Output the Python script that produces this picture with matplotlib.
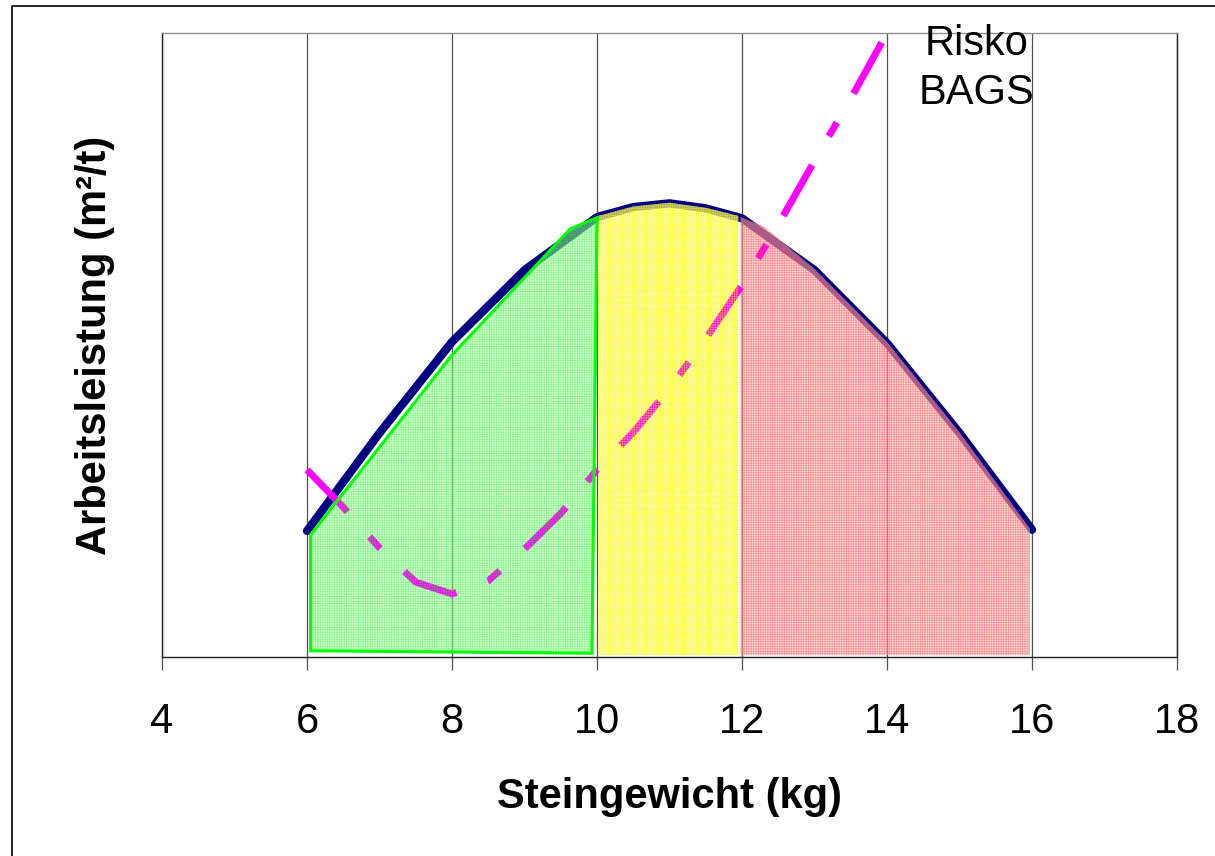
import matplotlib
matplotlib.use("Agg")

import matplotlib.pyplot as plt
from matplotlib.patches import Polygon, Rectangle

plt.rcParams["font.family"] = ["Liberation Sans", "DejaVu Sans"]
plt.rcParams["hatch.linewidth"] = 0.55

# ------------------------------------------------------------------
# Daten
# ------------------------------------------------------------------
weight_x = [6, 7, 8, 9, 10, 10.5, 11, 11.5, 12, 13, 14, 15, 16]
leistung_y = [2.02, 3.59, 5.05, 6.20, 7.05, 7.21, 7.27, 7.19, 7.03, 6.20, 5.03, 3.59, 2.04]

risk_x = [6, 6.5, 7, 7.5, 8, 8.5, 9, 9.5, 10, 10.5, 11, 11.5, 12, 12.5, 13, 13.5, 14, 14.5]
risk_y = [3.0, 2.40, 1.75, 1.20, 1.01, 1.22, 1.73, 2.30, 3.0, 3.60, 4.30, 5.10,
          5.96, 6.93, 7.95, 8.95, 10.0, 11.1]

green_x = [6.05, 8.0, 9.63, 10.0, 9.93, 6.05]
green_y = [1.96, 4.84, 6.86, 7.04, 0.06, 0.10]

yellow_x = [10.02, 10.5, 11.0, 11.5, 11.95, 11.95, 10.02]
yellow_y = [7.07, 7.22, 7.28, 7.20, 7.07, 0.03, 0.03]

red_x = [11.98, 12.3, 13.0, 14.0, 15.0, 15.97, 15.97, 11.98]
red_y = [7.05, 6.90, 6.22, 5.05, 3.60, 2.06, 0.03, 0.03]

x_ticks = [4, 6, 8, 10, 12, 14, 16, 18]

# ------------------------------------------------------------------
# Abbildung
# ------------------------------------------------------------------
fig = plt.figure(figsize=(12.15, 8.56), dpi=100)
ax = fig.add_axes([162 / 1215, 1 - 657 / 856, 1015 / 1215, 624 / 856])

ax.set_xlim(4, 18)
ax.set_ylim(0, 10)

for xv in x_ticks:
    ax.axvline(xv, color="#505050", lw=0.9, zorder=0.5)

ax.plot(weight_x, leistung_y, color="#000080", lw=6, solid_capstyle="round",
        solid_joinstyle="round", zorder=2)

# Zonen: heller Grund unter der Risikolinie, Gittermuster darüber
zones = [
    (green_x, green_y, (0.65, 1.0, 0.65, 0.5), (0.2, 0.95, 0.2, 0.4)),
    (yellow_x, yellow_y, (1.0, 1.0, 0.45, 0.65), (1.0, 1.0, 0.0, 0.5)),
    (red_x, red_y, (1.0, 0.7, 0.7, 0.55), (1.0, 0.3, 0.3, 0.45)),
]
for xs, ys, face, hatch_col in zones:
    pts = list(zip(xs, ys))
    ax.add_patch(Polygon(pts, closed=True, facecolor=face, lw=0, zorder=4))
    ax.add_patch(Polygon(pts, closed=True, facecolor="none",
                         edgecolor=hatch_col, hatch="+++++++", lw=0, zorder=6))

ax.plot(risk_x, risk_y, color="#ff00ff", lw=5,
        linestyle=(0, (8.4, 4.8, 2.3, 4.8)), dash_capstyle="butt", zorder=5)

# grüner Rand
ax.add_patch(Polygon(list(zip(green_x, green_y)), closed=True, fill=False,
                     edgecolor="#00ff00", lw=2.2, zorder=6.5))

ax.set_xticks(x_ticks)
ax.set_yticks([])
ax.tick_params(axis="x", direction="out", length=9.5, width=0.9,
               color="#505050", labelsize=30, pad=23)

for side in ["left", "right", "bottom"]:
    ax.spines[side].set_color("#202020")
    ax.spines[side].set_linewidth(1.0)
ax.spines["top"].set_color("#909090")
ax.spines["top"].set_linewidth(1.0)

ax.set_xlabel("Steingewicht (kg)", fontsize=30, fontweight="bold")
ax.xaxis.set_label_coords(0.5, (657 - 777) / 624)
ax.set_ylabel("Arbeitsleistung (m²/t)", fontsize=30, fontweight="bold")
ax.yaxis.set_label_coords((115 - 162) / 1015, 0.5)

fig.text(977 / 1215, 1 - 24 / 856, "Risko\nBAGS", fontsize=30, ha="center",
         va="top", multialignment="center", linespacing=1.3)

# äußerer Rahmen
fig.add_artist(Rectangle((12 / 1215, -0.1), 1.2, 1.1 - 6 / 856,
                         transform=fig.transFigure, fill=False,
                         edgecolor="black", lw=1.2))

fig.savefig("out.png", dpi=100)
